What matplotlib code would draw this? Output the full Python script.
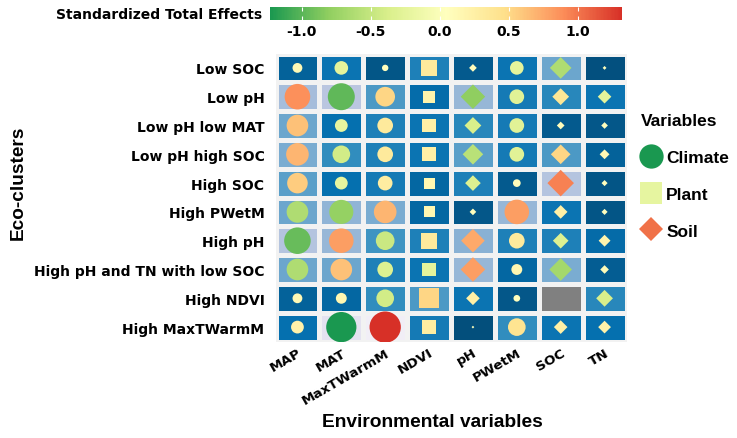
import numpy as np
import matplotlib
matplotlib.use('Agg')
import matplotlib.pyplot as plt
from matplotlib.colors import LinearSegmentedColormap, Normalize
from matplotlib.cm import ScalarMappable
from matplotlib.lines import Line2D

nan = np.nan
clusters = ["Low SOC", "Low pH", "Low pH low MAT", "Low pH high SOC", "High SOC",
            "High PWetM", "High pH", "High pH and TN with low SOC", "High NDVI",
            "High MaxTWarmM"]
variables = ["MAP", "MAT", "MaxTWarmM", "NDVI", "pH", "PWetM", "SOC", "TN"]
var_group = ["Climate", "Climate", "Climate", "Plant", "Soil", "Climate", "Soil", "Soil"]

effects = [
    [0.13, -0.25, 0.055, 0.33, 0.08, -0.25, -0.63, 0.02],
    [0.88, -0.98, 0.52, 0.20, -0.81, -0.29, 0.38, -0.25],
    [0.63, -0.22, 0.33, 0.25, -0.38, -0.29, 0.08, 0.06],
    [0.69, -0.42, 0.33, 0.25, -0.57, -0.29, 0.52, 0.13],
    [0.57, -0.22, 0.29, 0.16, -0.33, 0.08, 0.95, 0.05],
    [-0.63, -0.78, 0.69, 0.16, 0.06, 0.81, 0.25, 0.05],
    [-0.95, 0.81, -0.47, 0.33, 0.75, 0.33, -0.33, 0.19],
    [-0.63, 0.63, -0.33, -0.25, 0.81, 0.16, -0.69, 0.10],
    [0.13, 0.16, -0.42, 0.52, 0.25, 0.06, nan, -0.38],
    [0.22, -1.23, 1.32, 0.29, 0.01, 0.42, 0.25, 0.22],
]
cbar_ticks = [-1.0, -0.5, 0.0, 0.5, 1.0]
cbar_ticklabels = ["-1.0", "-0.5", "0.0", "0.5", "1.0"]

E = np.array(effects, dtype=float)
nr, nc = E.shape

eff_cmap = LinearSegmentedColormap.from_list(
    "rdylgn_r7", ['#1a9850', '#91cf60', '#d9ef8b', '#ffffbf', '#fee08b', '#fc8d59', '#d73027'])
eff_norm = Normalize(vmin=-1.23, vmax=1.32)
bg_cmap = LinearSegmentedColormap.from_list(
    "pubu_r7", ['#034e7b', '#0570b0', '#3690c0', '#74a9cf', '#a6bddb', '#d0d1e6', '#f1eef6'])
bg_cmap.set_bad('#808080')
bg_norm = Normalize(vmin=0, vmax=1.32)

W, H = 737, 439
fig = plt.figure(figsize=(W / 100, H / 100), dpi=100)
ax = fig.add_axes([275.5 / W, 1 - 342.5 / H, 351 / W, 288 / H])
ax.set_facecolor('#f2f2f2')

absE = np.ma.masked_invalid(np.abs(E))
ax.pcolormesh(np.arange(nc + 1) - 0.5, np.arange(nr + 1) - 0.5, absE,
              cmap=bg_cmap, norm=bg_norm, edgecolors='#f2f2f2', linewidth=2.3)

markers = {"Climate": ('o', 1.0), "Plant": ('s', 1.0), "Soil": ('D', 0.5)}
k = 385
for g, (m, f) in markers.items():
    cols = [j for j, gg in enumerate(var_group) if gg == g]
    xs, ys, vs = [], [], []
    for i in range(nr):
        for j in cols:
            if not np.isnan(E[i, j]):
                xs.append(j); ys.append(i); vs.append(E[i, j])
    vs = np.array(vs)
    ax.scatter(xs, ys, s=k * f * np.abs(vs), c=vs, cmap=eff_cmap, norm=eff_norm,
               marker=m, linewidths=0, zorder=3)

ax.set_xlim(-0.5, nc - 0.5)
ax.set_ylim(nr - 0.5, -0.5)
ax.set_xticks(range(nc))
ax.set_xticklabels(variables, rotation=30, ha='right', va='top', rotation_mode='anchor',
                   fontsize=9.7, fontweight='bold', family='DejaVu Sans')
ax.set_yticks(range(nr))
ax.set_yticklabels(clusters, fontsize=10, fontweight='bold', family='DejaVu Sans')
ax.tick_params(axis='y', length=0, pad=8)
ax.tick_params(axis='x', length=0, pad=3)
for s in ax.spines.values():
    s.set_visible(False)

fig.text(432 / W, 1 - 423 / H, "Environmental variables", ha='center', va='center',
         fontsize=13.8, fontweight='bold', family='Liberation Sans')
fig.text(18 / W, 1 - 183 / H, "Eco-clusters", ha='center', va='center', rotation=90,
         fontsize=13.7, fontweight='bold', family='Liberation Sans')

# colorbar
cax = fig.add_axes([270 / W, 1 - 21 / H, 352 / W, 13 / H])
cb = fig.colorbar(ScalarMappable(norm=eff_norm, cmap=eff_cmap), cax=cax, orientation='horizontal')
cb.outline.set_visible(False)
cb.set_ticks(cbar_ticks)
cb.set_ticklabels(cbar_ticklabels)
cax.tick_params(axis='x', direction='in', color='white', length=3, width=0.8,
                top=True, bottom=True, labelsize=10, pad=3)
for lab in cax.get_xticklabels():
    lab.set_fontweight('bold')
fig.text(262 / W, 1 - 15 / H, "Standardized Total Effects", ha='right', va='center',
         fontsize=10, fontweight='bold', family='DejaVu Sans')

# legend
handles = [
    Line2D([], [], marker='o', linestyle='none', markersize=17.5, markerfacecolor='#1a9850', markeredgewidth=0),
    Line2D([], [], marker='s', linestyle='none', markersize=16.5, markerfacecolor='#e6f5a0', markeredgewidth=0),
    Line2D([], [], marker='D', linestyle='none', markersize=12.2, markerfacecolor='#f07148', markeredgewidth=0),
]
leg = fig.legend(handles, ["Climate", "Plant", "Soil"], title="Variables",
                 loc='upper left', bbox_to_anchor=(634 / W, 1 - 107 / H), frameon=False,
                 prop={'family': 'Liberation Sans', 'weight': 'bold', 'size': 12.5},
                 title_fontproperties={'family': 'Liberation Sans', 'weight': 'bold', 'size': 12.5},
                 labelspacing=1.25, handletextpad=0.25, handlelength=1.2, borderaxespad=0)
leg._legend_box.align = 'left'

fig.savefig('out.png', dpi=100)
